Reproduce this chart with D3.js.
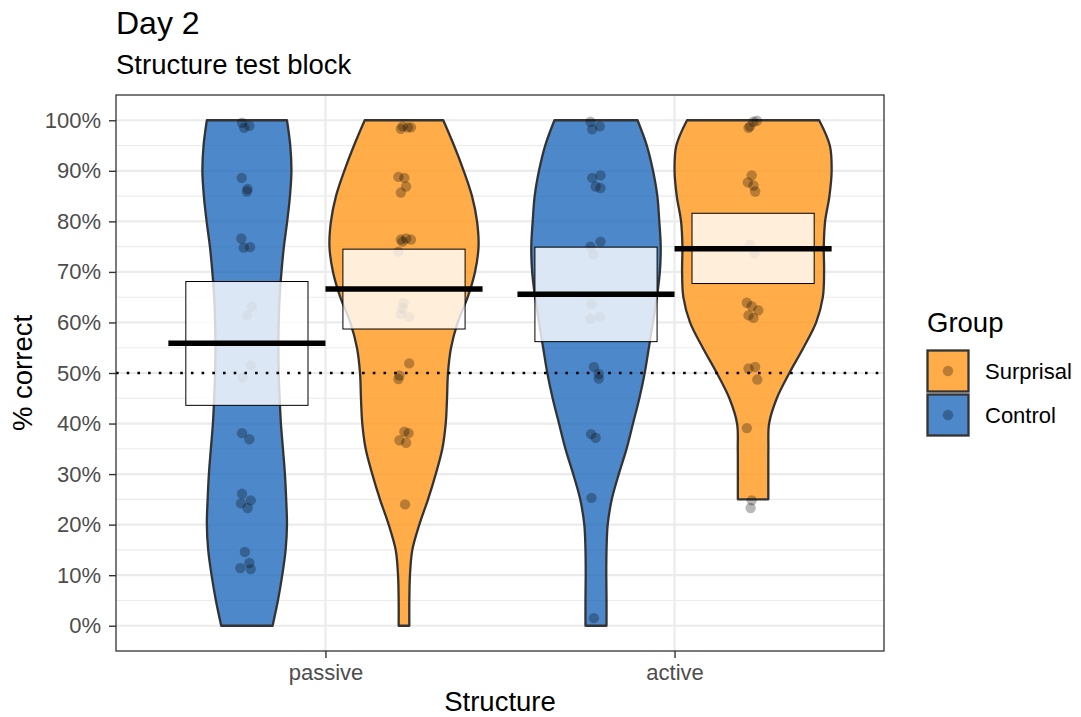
<!DOCTYPE html>
<html>
<head>
<meta charset="utf-8">
<script src="https://cdn.jsdelivr.net/npm/d3@7"></script>
<style>
body{margin:0;background:#fff}
svg{display:block}
text{font-family:"Liberation Sans",Arial,Helvetica,sans-serif}
</style>
</head>
<body>
<svg id="chart" width="1081" height="717"></svg>
<script>
// ---------------- DATA ----------------
const categories = ["passive", "active"];
const legendGroups = ["Surprisal", "Control"];
const yTickValues = [0, 10, 20, 30, 40, 50, 60, 70, 80, 90, 100];
const yMinorValues = [5, 15, 25, 35, 45, 55, 65, 75, 85, 95];
const chanceLevel = 50;

// violin outlines: [percent correct, relative half-width]
const violinControlPassive = [[0,.327],[5,.395],[10,.45],[15,.493],[20,.51],[25,.50],[30,.484],[35,.459],[40,.433],[45,.417],[50,.405],[55,.401],[60,.405],[65,.417],[70,.44],[75,.471],[80,.513],[85,.548],[90,.567],[95,.552],[100,.51]];
const violinSurprisalPassive = [[0,.068],[5,.068],[10,.076],[15,.106],[20,.195],[25,.306],[30,.404],[35,.488],[40,.531],[45,.548],[50,.56],[55,.599],[60,.684],[65,.811],[70,.904],[75,.949],[80,.93],[85,.866],[90,.76],[95,.637],[100,.50]];
const violinControlActive = [[0,.134],[5,.134],[10,.131],[15,.134],[20,.149],[25,.201],[30,.29],[35,.389],[40,.471],[45,.552],[50,.62],[55,.673],[60,.726],[65,.775],[70,.813],[75,.824],[80,.806],[85,.781],[90,.726],[95,.647],[100,.529]];
const violinSurprisalActive = [[25,.194],[30,.194],[35,.195],[40,.204],[45,.302],[50,.462],[55,.641],[60,.803],[65,.888],[70,.904],[75,.90],[80,.917],[85,.972],[90,1.0],[95,.977],[100,.841]];

// means and mean ± SE (passive, active)
const meanControl = [55.9, 65.6];
const meanSurprisal = [66.6, 74.6];
const lowerControl = [43.6, 56.2];
const upperControl = [68.1, 74.9];
const lowerSurprisal = [58.7, 67.7];
const upperSurprisal = [74.5, 81.6];

// individual points: [horizontal jitter (category units), percent correct]
const pointsControlPassive = [[-.014,99.5],[.007,98.9],[-.008,98.5],[-.015,88.6],[.002,86.4],[0,85.9],[-.016,76.6],[-.009,74.8],[.009,74.9],[.014,63.1],[0,61.4],[.011,51.5],[-.012,49.1],[-.014,38.1],[.007,36.9],[-.014,26.1],[.011,24.8],[-.017,24.2],[.002,23.3],[-.006,14.6],[.007,12.4],[-.019,11.4],[.011,11.2]];
const pointsSurprisalPassive = [[-.004,98.8],[.011,98.6],[-.009,98.3],[.020,98.6],[-.016,88.8],[.001,88.6],[.006,86.9],[-.009,85.7],[-.009,76.4],[.006,76.6],[.020,76.4],[-.004,76.0],[-.016,74.0],[-.001,63.8],[-.004,62.8],[-.009,61.6],[.015,61.1],[.015,51.9],[-.013,49.5],[-.016,48.8],[.001,38.4],[.013,38.1],[-.013,36.7],[.006,36.2],[.003,24.0]];
const pointsControlActive = [[-.016,99.7],[.011,98.8],[-.011,98.2],[-.011,88.6],[.013,89.1],[-.001,86.9],[.013,86.6],[-.016,75.0],[.013,76.0],[-.008,73.5],[-.013,63.6],[-.016,60.7],[.011,61.1],[-.006,51.2],[.008,49.8],[.008,48.9],[-.014,37.9],[-.001,37.2],[-.013,25.3],[-.006,1.5]];
const pointsSurprisalActive = [[.001,99.7],[-.009,98.8],[.011,99.9],[-.013,98.5],[-.004,89.1],[-.015,87.7],[.001,87.1],[.006,85.9],[-.009,75.4],[.004,73.7],[-.018,63.9],[-.004,63.2],[.015,62.4],[-.013,61.4],[.001,60.9],[-.013,50.9],[.006,51.2],[.012,48.7],[-.018,39.1],[-.004,24.8],[-.007,23.3]];

// ---------------- STYLE / LAYOUT ----------------
const colors = {Control: "#1f6abd", Surprisal: "#ff971b"};
const fillOpacity = 0.8;
const dodge = {Control: -0.225, Surprisal: 0.225};
const violinHalf = 0.225, boxHalf = 0.175, meanHalf = 0.225;
const panel = {left: 116, right: 884, top: 95, bottom: 651};

const svg = d3.select("#chart");
const x = d3.scaleLinear().domain([0.4, 2.6]).range([panel.left, panel.right]);
const y = d3.scaleLinear().domain([-5, 105]).range([panel.bottom, panel.top]);

// gridlines
const grid = svg.append("g");
grid.selectAll(".minor").data(yMinorValues).join("line")
  .attr("x1", panel.left).attr("x2", panel.right)
  .attr("y1", d => y(d)).attr("y2", d => y(d))
  .attr("stroke", "#ebebeb").attr("stroke-width", 1.1);
grid.selectAll(".major").data(yTickValues).join("line")
  .attr("x1", panel.left).attr("x2", panel.right)
  .attr("y1", d => y(d)).attr("y2", d => y(d))
  .attr("stroke", "#ebebeb").attr("stroke-width", 2.2);
grid.selectAll(".vmajor").data([1, 2]).join("line")
  .attr("x1", d => x(d)).attr("x2", d => x(d))
  .attr("y1", panel.top).attr("y2", panel.bottom)
  .attr("stroke", "#ebebeb").attr("stroke-width", 2.2);

const sets = [
  {g: "Control", c: 1, violin: violinControlPassive, pts: pointsControlPassive, mean: meanControl[0], lo: lowerControl[0], hi: upperControl[0]},
  {g: "Surprisal", c: 1, violin: violinSurprisalPassive, pts: pointsSurprisalPassive, mean: meanSurprisal[0], lo: lowerSurprisal[0], hi: upperSurprisal[0]},
  {g: "Control", c: 2, violin: violinControlActive, pts: pointsControlActive, mean: meanControl[1], lo: lowerControl[1], hi: upperControl[1]},
  {g: "Surprisal", c: 2, violin: violinSurprisalActive, pts: pointsSurprisalActive, mean: meanSurprisal[1], lo: lowerSurprisal[1], hi: upperSurprisal[1]}
];

// violins
sets.forEach(s => {
  const cx = s.c + dodge[s.g];
  const area = d3.area()
    .y(d => y(d[0]))
    .x0(d => x(cx - d[1] * violinHalf))
    .x1(d => x(cx + d[1] * violinHalf))
    .curve(d3.curveCatmullRom.alpha(0.5));
  svg.append("path").datum(s.violin)
    .attr("d", area)
    .attr("fill", colors[s.g]).attr("fill-opacity", fillOpacity)
    .attr("stroke", "#333333").attr("stroke-width", 2.3).attr("stroke-linejoin", "round");
});

// points
sets.forEach(s => {
  const cx = s.c + dodge[s.g];
  svg.append("g").selectAll("circle").data(s.pts).join("circle")
    .attr("cx", d => x(cx + d[0]))
    .attr("cy", d => y(d[1]))
    .attr("r", 5.2)
    .attr("fill", "#000").attr("fill-opacity", 0.28);
});

// boxes (mean ± SE)
sets.forEach(s => {
  const cx = s.c + dodge[s.g];
  svg.append("rect")
    .attr("x", x(cx - boxHalf)).attr("width", x(cx + boxHalf) - x(cx - boxHalf))
    .attr("y", y(s.hi)).attr("height", y(s.lo) - y(s.hi))
    .attr("fill", "#fff").attr("fill-opacity", 0.8)
    .attr("stroke", "#000").attr("stroke-width", 1);
});

// mean lines
sets.forEach(s => {
  const cx = s.c + dodge[s.g];
  svg.append("line")
    .attr("x1", x(cx - meanHalf)).attr("x2", x(cx + meanHalf))
    .attr("y1", y(s.mean)).attr("y2", y(s.mean))
    .attr("stroke", "#000").attr("stroke-width", 5.5);
});

// chance line
svg.append("line")
  .attr("x1", panel.left).attr("x2", panel.right)
  .attr("y1", y(chanceLevel)).attr("y2", y(chanceLevel))
  .attr("stroke", "#000").attr("stroke-width", 2.6)
  .attr("stroke-dasharray", "2.6 8.1");

// panel border
svg.append("rect")
  .attr("x", panel.left).attr("y", panel.top)
  .attr("width", panel.right - panel.left).attr("height", panel.bottom - panel.top)
  .attr("fill", "none").attr("stroke", "#333333").attr("stroke-width", 1.3);

// axes
const yAxis = svg.append("g").attr("transform", `translate(${panel.left},0)`)
  .call(d3.axisLeft(y).tickValues(yTickValues).tickFormat(d => d + "%").tickSize(7).tickPadding(8));
const xAxis = svg.append("g").attr("transform", `translate(0,${panel.bottom})`)
  .call(d3.axisBottom(x).tickValues([1, 2]).tickFormat(d => categories[d - 1]).tickSize(7).tickPadding(6));
[yAxis, xAxis].forEach(a => {
  a.select(".domain").remove();
  a.selectAll(".tick line").attr("stroke", "#333333").attr("stroke-width", 1.4);
  a.selectAll(".tick text").attr("fill", "#4d4d4d").style("font-size", "22px")
    .style("font-family", '"Liberation Sans",Arial,Helvetica,sans-serif');
});

// titles
svg.append("text").attr("x", 116).attr("y", 34).text("Day 2")
  .style("font-size", "32px").attr("fill", "#000");
svg.append("text").attr("x", 116).attr("y", 74).text("Structure test block")
  .style("font-size", "27.5px").attr("fill", "#000");
svg.append("text").attr("x", (panel.left + panel.right) / 2).attr("y", 711)
  .attr("text-anchor", "middle").text("Structure").style("font-size", "27.5px");
svg.append("text").attr("transform", `translate(32,${(panel.top + panel.bottom) / 2}) rotate(-90)`)
  .attr("text-anchor", "middle").text("% correct").style("font-size", "27.5px");

// legend
const legend = svg.append("g");
legend.append("text").attr("x", 927).attr("y", 332).text("Group").style("font-size", "27.5px");
legendGroups.forEach((g, i) => {
  const ky = 350.5 + i * 44;
  legend.append("rect").attr("x", 927.5).attr("y", ky).attr("width", 41).attr("height", 41)
    .attr("fill", colors[g]).attr("fill-opacity", fillOpacity)
    .attr("stroke", "#333333").attr("stroke-width", 2.3);
  legend.append("circle").attr("cx", 948).attr("cy", ky + 20.5).attr("r", 5.2)
    .attr("fill", "#000").attr("fill-opacity", 0.28);
  legend.append("text").attr("x", 985).attr("y", ky + 20.5).attr("dy", "0.36em")
    .text(g).style("font-size", "22px").attr("fill", "#000");
});
</script>
</body>
</html>
